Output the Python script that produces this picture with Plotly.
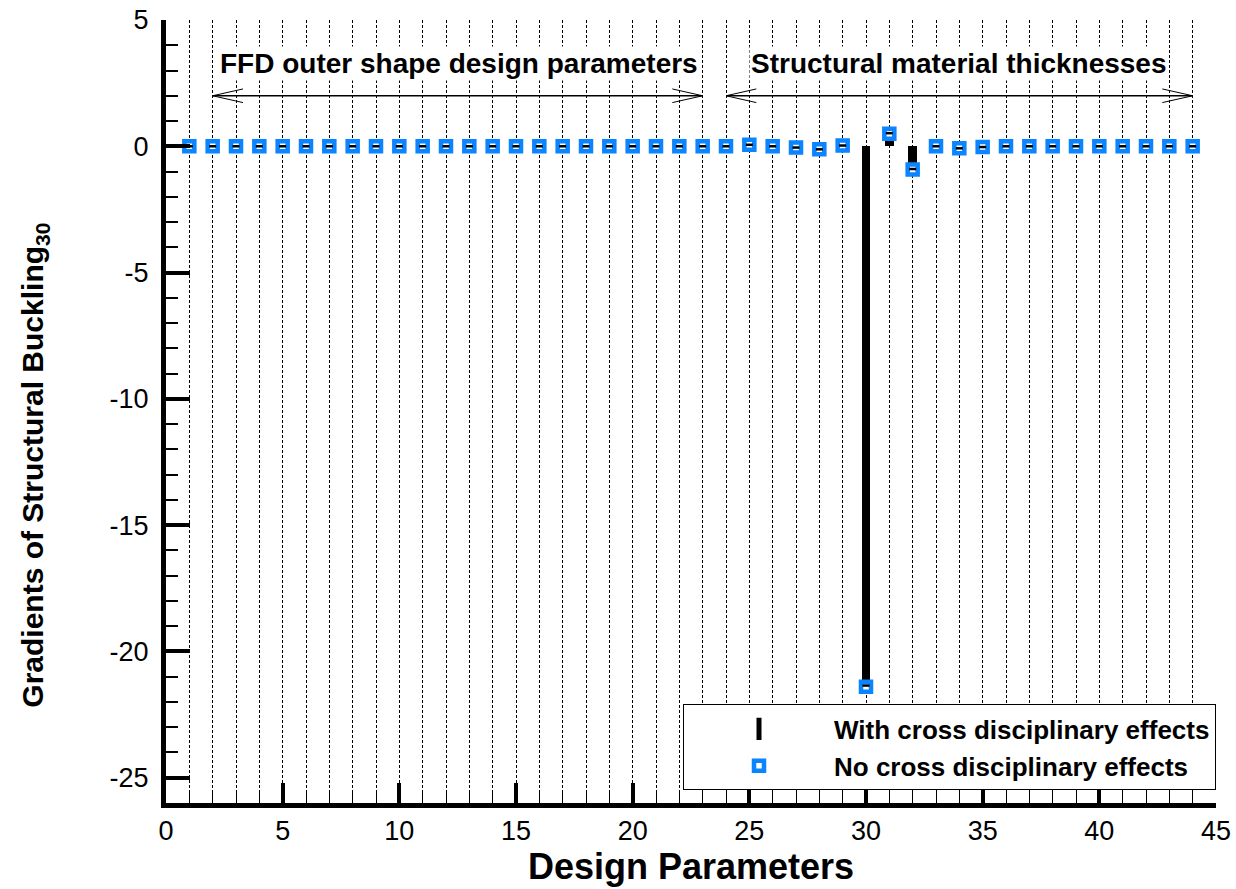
import plotly.graph_objects as go

# ---------------- data ----------------
params = list(range(1, 45))
no_cross = [0.0] * 44
with_cross = [0.0] * 44
no_vals = {25: 0.06, 27: -0.05, 28: -0.12, 29: 0.03, 30: -21.4, 31: 0.5, 32: -0.92, 34: -0.08, 35: -0.03}
with_vals = {25: 0.06, 27: -0.05, 28: -0.12, 29: 0.03, 30: -21.35, 31: 0.52, 32: -0.9, 34: -0.08, 35: -0.03}
for k, v in no_vals.items():
    no_cross[k - 1] = v
for k, v in with_vals.items():
    with_cross[k - 1] = v

group_labels = ["FFD outer shape design parameters", "Structural material thicknesses"]
group_label_x = [12.55, 34.0]
group_spans = [(2, 23), (24, 44)]
label_y = 3.28
arrow_y = 2.0

x_ticks = [0, 5, 10, 15, 20, 25, 30, 35, 40, 45]
y_ticks = [5, 0, -5, -10, -15, -20, -25]

FONT = "Liberation Sans, Arial, sans-serif"
BLUE = "#0a84ff"

fig = go.Figure()

# black bars (with cross disciplinary effects)
fig.add_trace(go.Bar(
    x=params, y=with_cross, base=0, width=0.38,
    marker=dict(color="black", line=dict(width=0)),
    showlegend=False, hoverinfo="skip",
))
# blue hollow squares (no cross disciplinary effects)
fig.add_trace(go.Scatter(
    x=params, y=no_cross, mode="markers",
    name="No cross disciplinary effects",
    marker=dict(symbol="square", size=10, color="white",
                line=dict(color=BLUE, width=4.5)),
))
# small black dash at bar tip (visible inside hollow squares)
fig.add_trace(go.Scatter(
    x=params, y=with_cross, mode="markers", showlegend=False, hoverinfo="skip",
    marker=dict(symbol="line-ew", size=5, color="black",
                line=dict(color="black", width=2.5)),
))
# legend entry for the bars
fig.add_trace(go.Scatter(
    x=[None], y=[None], mode="markers",
    name="With cross disciplinary effects",
    marker=dict(symbol="line-ns", size=20, color="black",
                line=dict(color="black", width=6)),
    legendrank=1,
))

# arrows
for (x0, x1) in group_spans:
    fig.add_shape(type="line", x0=x0, x1=x1, y0=arrow_y, y1=arrow_y,
                  line=dict(color="black", width=1.5), layer="above")
    for tip, sgn in ((x0, 1), (x1, -1)):
        for dy in (0.27, -0.27):
            fig.add_shape(type="line", x0=tip, y0=arrow_y, x1=tip + sgn * 1.3, y1=arrow_y + dy,
                          line=dict(color="black", width=1), layer="above")

for txt, xx in zip(group_labels, group_label_x):
    fig.add_annotation(x=xx, y=label_y, text="<b>" + txt + "</b>", showarrow=False,
                       font=dict(family=FONT, size=28, color="black"),
                       xanchor="center", yanchor="middle", bgcolor="white")

# y-axis title (placed as rotated text, lower than centre as in the reference)
fig.add_annotation(x=-0.1248, y=0.432, xref="paper", yref="paper",
                   text="<b>Gradients of Structural Buckling<sub>30</sub></b>",
                   textangle=-90, showarrow=False, xanchor="center", yanchor="middle",
                   font=dict(family=FONT, size=30, color="black"))

fig.update_layout(
    width=1236, height=889,
    margin=dict(l=166, r=20, t=20, b=86, autoexpand=False),
    paper_bgcolor="white", plot_bgcolor="white",
    font=dict(family=FONT, color="black"),
    showlegend=True,
    legend=dict(
        x=1.0, xanchor="right", y=0.016, yanchor="bottom",
        bgcolor="white", bordercolor="black", borderwidth=1,
        font=dict(family=FONT, size=26, color="black", weight="bold"),
        itemwidth=140, traceorder="normal",
        tracegroupgap=0,
    ),
    bargap=0,
)

fig.update_xaxes(
    range=[0, 45], tickvals=x_ticks, ticktext=[str(v) for v in x_ticks],
    automargin=False,
    showline=True, linecolor="black", linewidth=5, mirror=False,
    ticks="inside", ticklen=20, tickwidth=4, tickcolor="black",
    tickfont=dict(family=FONT, size=27, color="black"),
    ticklabelstandoff=0, ticklabeloverflow="allow",
    showgrid=True, gridcolor="black", gridwidth=1, griddash="3px,2px",
    minor=dict(dtick=1, ticks="inside", ticklen=10, tickwidth=1, tickcolor="black",
               showgrid=True, gridcolor="black", gridwidth=1, griddash="3px,2px"),
    zeroline=False,
    title=dict(text="<b>Design Parameters</b>", font=dict(family=FONT, size=36, color="black"),
               standoff=2),
)
fig.update_yaxes(
    range=[-26, 5], tickvals=y_ticks, ticktext=[str(v) for v in y_ticks],
    automargin=False,
    showline=True, linecolor="black", linewidth=5, mirror=False,
    ticks="inside", ticklen=24, tickwidth=4, tickcolor="black",
    tickfont=dict(family=FONT, size=27, color="black"),
    ticklabelstandoff=7, ticklabeloverflow="allow",
    showgrid=False, zeroline=False,
    minor=dict(dtick=1, ticks="inside", ticklen=12, tickwidth=1.5, tickcolor="black",
               showgrid=False),
)

fig.write_html("out.html", config={"displayModeBar": False},
               post_script="document.body.style.margin='0';document.body.style.overflow='hidden';")
